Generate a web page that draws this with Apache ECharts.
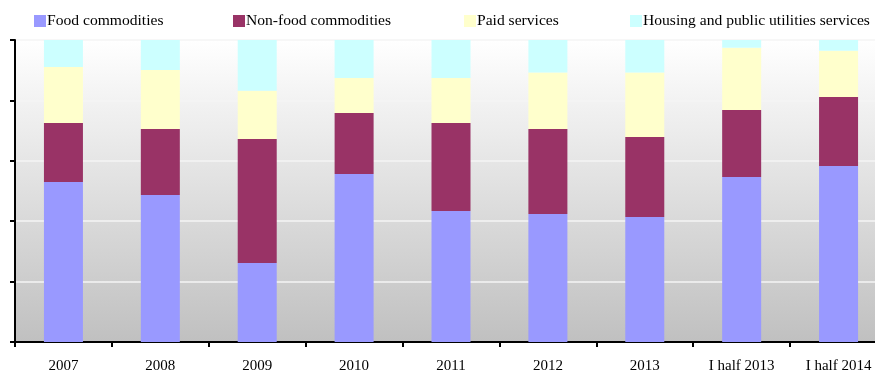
<!DOCTYPE html>
<html>
<head>
<meta charset="utf-8">
<script src="https://cdn.jsdelivr.net/npm/echarts@6/dist/echarts.min.js"></script>
<style>html,body{margin:0;padding:0;background:#fff}#c{width:875px;height:376px}</style>
</head>
<body>
<div id="c"></div>
<script>
const categories = ['2007', '2008', '2009', '2010', '2011', '2012', '2013', 'I half 2013', 'I half 2014'];
const food = [53.0, 48.7, 26.2, 55.6, 43.4, 42.4, 41.4, 54.6, 58.3];
const nonFood = [19.5, 21.8, 41.0, 20.2, 29.1, 28.1, 26.5, 22.2, 22.8];
const paid = [18.6, 19.6, 16.0, 11.6, 14.9, 18.7, 21.3, 20.6, 15.3];
const housing = [8.9, 9.9, 16.8, 12.6, 12.6, 10.8, 10.8, 2.6, 3.6];
const seriesNames = ['Food commodities', 'Non-food commodities', 'Paid services', 'Housing and public utilities services'];
const colors = ['#9999ff', '#993366', '#ffffcc', '#ccffff'];
const yTicks = [0, 20, 40, 60, 80, 100];

const font = '"Liberation Serif", "Times New Roman", serif';
const legendLefts = [34, 233, 464, 630];
const chart = echarts.init(document.getElementById('c'), null, {renderer: 'canvas'});
const allData = [food, nonFood, paid, housing];
chart.setOption({
  animation: false,
  backgroundColor: '#ffffff',
  color: colors,
  legend: seriesNames.map((n, i) => ({
    data: [n], left: legendLefts[i], top: 13, padding: 0,
    itemWidth: 12, itemHeight: 12, itemGap: 0,
    icon: 'rect',
    textStyle: {fontFamily: font, fontSize: 15.6, color: '#000', padding: [0, 0, 0, -4]}
  })),
  grid: {
    left: 15, right: -12, top: 40, bottom: 34,
    outerBoundsMode: 'none', containLabel: false,
    show: true, borderWidth: 0,
    backgroundColor: new echarts.graphic.LinearGradient(0, 0, 0, 1, [
      {offset: 0, color: '#ffffff'}, {offset: 1, color: '#c0c0c0'}
    ])
  },
  xAxis: {
    type: 'category', data: categories,
    axisLine: {lineStyle: {color: '#000', width: 2}},
    axisTick: {show: true, length: 5, lineStyle: {color: '#000', width: 2}},
    axisLabel: {fontFamily: font, fontSize: 15, color: '#000', margin: 17}
  },
  yAxis: {
    type: 'value', min: yTicks[0], max: yTicks[yTicks.length - 1], interval: 20,
    axisLine: {show: true, lineStyle: {color: '#000', width: 2}},
    axisTick: {show: true, length: 5, lineStyle: {color: '#000', width: 2}},
    axisLabel: {show: false},
    splitLine: {show: true, lineStyle: {color: '#f4f4f4', width: 1.5}}
  },
  series: seriesNames.map((n, i) => ({
    name: n, type: 'bar', stack: 'total', barWidth: 39,
    data: allData[i],
    itemStyle: {color: colors[i]}
  }))
});
</script>
</body>
</html>
